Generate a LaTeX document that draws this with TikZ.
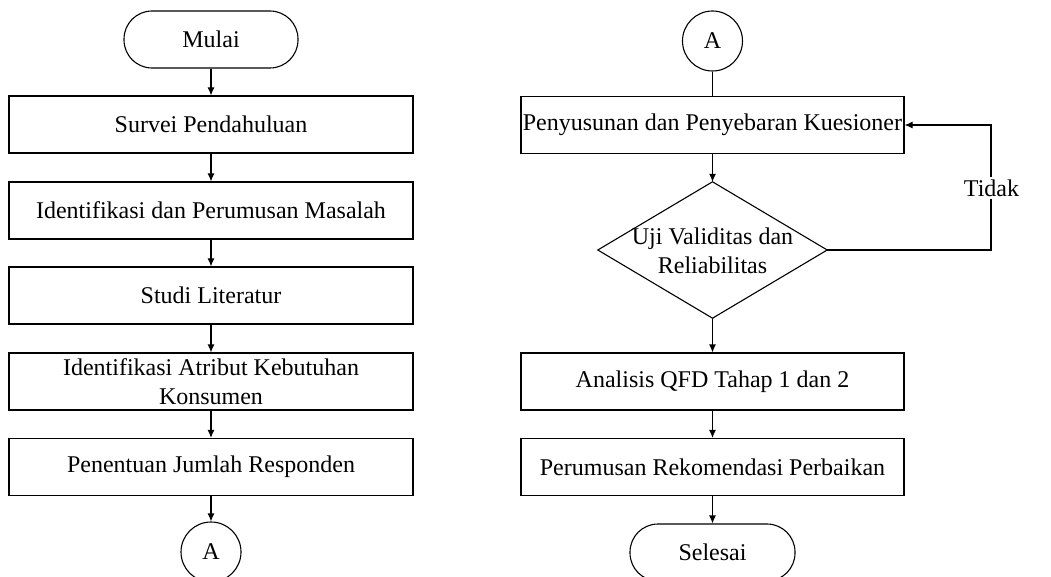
\documentclass[tikz,border=0pt]{standalone}
\usepackage{fontspec}
\setmainfont{Liberation Serif}
\usetikzlibrary{arrows.meta}
\begin{document}
\begin{tikzpicture}[x=1pt,y=-1pt,
  every node/.style={font=\fontsize{24}{29}\selectfont, inner sep=0pt, align=center},
  procbox/.style={draw, line width=1.1pt, minimum height=57pt},
  lbox/.style={procbox, minimum width=404pt},
  rbox/.style={procbox, minimum width=383pt},
  term/.style={draw, line width=1.1pt, rounded corners=28pt, minimum height=57pt},
  conn/.style={draw, circle, line width=1.1pt, minimum size=60pt},
  flow/.style={line width=1.1pt, -{Latex[length=8pt,width=7pt]}},
  plain/.style={line width=1.1pt}]
\useasboundingbox (0,0) rectangle (1051,577);
\clip (0,0) rectangle (1051,577);
% left column
\node[term, minimum width=174pt] (mulai) at (211,39.5) {Mulai};
\node[lbox] (survei) at (211,124.5) {Survei Pendahuluan};
\node[lbox] (ident) at (211,210.5) {Identifikasi dan Perumusan Masalah};
\node[lbox] (studi) at (211,295.5) {Studi Literatur};
\node[lbox] (atribut) at (211,381.5) {Identifikasi Atribut Kebutuhan\\Konsumen};
\node[lbox] (penentuan) at (211,467) {Penentuan Jumlah Responden};
\node[conn] (aL) at (211,552) {A};
\draw[flow] (mulai) -- (survei);
\draw[flow] (survei) -- (ident);
\draw[flow] (ident) -- (studi);
\draw[flow] (studi) -- (atribut);
\draw[flow] (atribut) -- (penentuan);
\draw[flow] (penentuan) -- (aL);
% right column
\node[conn] (aR) at (712.5,41) {A};
\node[rbox] (kues) at (712.5,125) {Penyusunan dan Penyebaran Kuesioner};
\node[minimum width=229pt, minimum height=136pt] (dec) at (712.5,250) {};
\draw[line width=1.1pt] (dec.north) -- (dec.east) -- (dec.south) -- (dec.west) -- cycle;
\node (dectext) at (712.5,251) {Uji Validitas dan\\Reliabilitas};
\node[rbox] (qfd) at (712.5,381.5) {Analisis QFD Tahap 1 dan 2};
\node[rbox] (rekom) at (712.5,467) {Perumusan Rekomendasi Perbaikan};
\node[term, minimum width=165pt] (selesai) at (712.5,552.5) {Selesai};
\coordinate (loopc) at (991,250);
\draw[plain] (aR) -- (kues);
\draw[flow] (kues) -- (dec.north);
\draw[flow] (dec.south) -- (qfd);
\draw[flow] (qfd) -- (rekom);
\draw[flow] (rekom) -- (selesai);
\draw[flow] (dec.east) -- (loopc) |- (kues.east);
\node[fill=white, inner ysep=3pt] (tidak) at (991.5,188) {Tidak};
\end{tikzpicture}
\end{document}
